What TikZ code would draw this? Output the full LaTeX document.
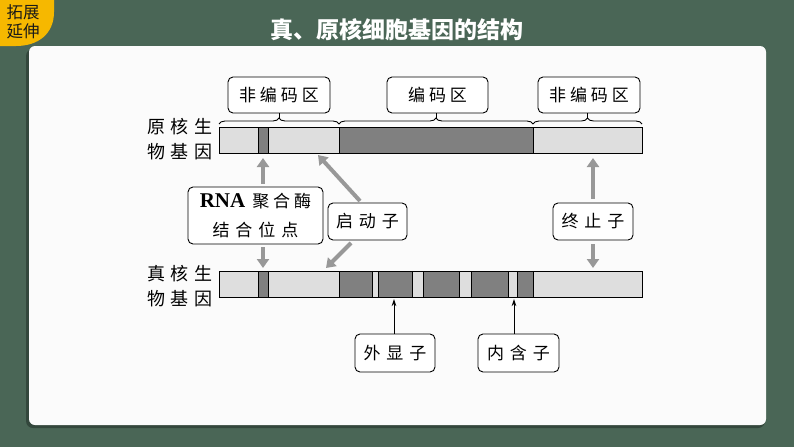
\documentclass[tikz,border=0pt]{standalone}
\usepackage{fontspec}
\setmainfont{Noto Sans CJK SC}
\newfontfamily\latserif{Liberation Serif}
\usetikzlibrary{arrows.meta,decorations.pathreplacing}
\definecolor{bgcol}{RGB}{74,102,86}
\definecolor{badgecol}{RGB}{246,184,0}
\definecolor{panelcol}{RGB}{251,251,251}
\definecolor{lightseg}{RGB}{222,222,222}
\definecolor{darkseg}{RGB}{128,128,128}
\definecolor{arrowgray}{RGB}{152,152,152}
\newcommand{\chgap}{\hspace{4pt}}
\newcommand{\widegap}{\hspace{6pt}}
\tikzset{
  labelbox/.style={draw=black, line width=0.9pt, rounded corners=5pt, fill=white, inner sep=0pt, font=\fontsize{17}{20}\selectfont},
  sidelabel/.style={align=center, inner sep=0pt, font=\fontsize{18}{25}\selectfont},
  lightbar/.style={fill=lightseg, draw=black, line width=0.9pt},
  darkbar/.style={fill=darkseg, draw=black, line width=0.9pt},
  grayarrow/.style={draw=arrowgray, line width=4pt, -{Triangle[length=9pt,width=12pt]}},
  blackarrow/.style={draw=black, line width=0.9pt, -{Stealth[length=7pt,width=4.5pt]}},
  bracestyle/.style={draw=black, line width=0.9pt, decorate, decoration={brace,amplitude=6pt}},
}
\begin{document}
\begin{tikzpicture}[x=1pt,y=-1pt]
\useasboundingbox (0,0) rectangle (794,447);
\fill[bgcol] (0,0) rectangle (794,447);
% panel with shadow
\fill[black,opacity=0.3,rounded corners=7pt] (26,49) rectangle (765,428);
\fill[panelcol,rounded corners=6pt] (29,46) rectangle (766,425);
% badge
\fill[badgecol] (0,0) -- (54,0) -- (54,12) .. controls (54,34) and (38,46) .. (16,46) -- (0,46) -- cycle;
\node[inner sep=0pt, text=black!90, font=\fontsize{16.5}{19}\selectfont] (badge1) at (23,12) {拓展};
\node[inner sep=0pt, text=black!90, font=\fontsize{16.5}{19}\selectfont] (badge2) at (23,31) {延伸};
% title
\node[inner sep=0pt, text=white, font=\fontsize{23}{26}\selectfont\bfseries] (title) at (397,30) {真、原核细胞基因的结构};

% prokaryotic gene bar
\path[lightbar] (219,127) rectangle (258,153);
\path[darkbar] (258,127) rectangle (268,153);
\path[lightbar] (268,127) rectangle (339,153);
\path[darkbar] (339,127) rectangle (533,153);
\path[lightbar] (533,127) rectangle (642,153);

% eukaryotic gene bar
\path[lightbar] (219,271) rectangle (258,297);
\path[darkbar] (258,271) rectangle (268,297);
\path[lightbar] (268,271) rectangle (339,297);
\path[darkbar] (339,271) rectangle (372,297);
\path[lightbar] (372,271) rectangle (378,297);
\path[darkbar] (378,271) rectangle (412,297);
\path[lightbar] (412,271) rectangle (423,297);
\path[darkbar] (423,271) rectangle (459,297);
\path[lightbar] (459,271) rectangle (471,297);
\path[darkbar] (471,271) rectangle (508,297);
\path[lightbar] (508,271) rectangle (517,297);
\path[darkbar] (517,271) rectangle (533,297);
\path[lightbar] (533,271) rectangle (642,297);

% side labels
\node[sidelabel] (prok) at (180,139) {原\widegap 核\widegap 生\\物\widegap 基\widegap 因};
\node[sidelabel] (euk) at (180,286) {真\widegap 核\widegap 生\\物\widegap 基\widegap 因};

% top label boxes
\node[labelbox, minimum width=102pt, minimum height=36pt] (nc1) at (279,95) {非\chgap 编\chgap 码\chgap 区};
\node[labelbox, minimum width=101pt, minimum height=36pt] (cod) at (437.5,95) {编\chgap 码\chgap 区};
\node[labelbox, minimum width=102pt, minimum height=36pt] (nc2) at (589,95) {非\chgap 编\chgap 码\chgap 区};

% braces
\coordinate (b1a) at (219,124); \coordinate (b1b) at (339,124);
\coordinate (b2a) at (339,124); \coordinate (b2b) at (533,124);
\coordinate (b3a) at (533,124); \coordinate (b3b) at (642,124);
\draw[bracestyle] (b1a) -- (b1b);
\draw[bracestyle] (b2a) -- (b2b);
\draw[bracestyle] (b3a) -- (b3b);
\coordinate (t1) at (279,118); \coordinate (t2) at (436,118); \coordinate (t3) at (587.5,118);
\draw[line width=0.9pt] (t1) -- (t1 |- nc1.south);
\draw[line width=0.9pt] (t2) -- (t2 |- cod.south);
\draw[line width=0.9pt] (t3) -- (t3 |- nc2.south);

% middle boxes
\node[labelbox, minimum width=135pt, minimum height=57pt, align=center, font=\fontsize{17}{29}\selectfont] (rna) at (255.5,215.5) {{\latserif\bfseries\fontsize{21}{29}\selectfont RNA}\hspace{7pt}聚\chgap 合\chgap 酶\\结\widegap 合\widegap 位\widegap 点};
\node[labelbox, minimum width=79pt, minimum height=37pt] (prom) at (367.5,221.5) {启\widegap 动\widegap 子};
\node[labelbox, minimum width=80pt, minimum height=37pt] (term) at (593,221.5) {终\widegap 止\widegap 子};

% bottom boxes
\node[labelbox, minimum width=80pt, minimum height=38pt] (exon) at (395,353) {外\widegap 显\widegap 子};
\node[labelbox, minimum width=81pt, minimum height=38pt] (intron) at (518.5,353) {内\widegap 含\widegap 子};

% arrow target coordinates
\coordinate (rnaUp) at (263,158);
\coordinate (rnaDown) at (263,268);
\coordinate (promUpStart) at (360,201);
\coordinate (promUp) at (318,155);
\coordinate (promDownStart) at (351,243);
\coordinate (promDown) at (326,268);
\coordinate (termUp) at (593,158);
\coordinate (termDown) at (593,268);
\coordinate (exT) at (394,299);
\coordinate (inT) at (514,299);

% gray arrows
\draw[grayarrow] ([yshift=3pt]rna.north -| rnaUp) -- (rnaUp);
\draw[grayarrow] ([yshift=-3pt]rna.south -| rnaDown) -- (rnaDown);
\draw[grayarrow] (promUpStart) -- (promUp);
\draw[grayarrow] (promDownStart) -- (promDown);
\draw[grayarrow] ([yshift=4pt]term.north) -- (termUp);
\draw[grayarrow] ([yshift=-4pt]term.south) -- (termDown);

% black arrows
\draw[blackarrow] (exon.north -| exT) -- (exT);
\draw[blackarrow] (intron.north -| inT) -- (inT);
\end{tikzpicture}
\end{document}
